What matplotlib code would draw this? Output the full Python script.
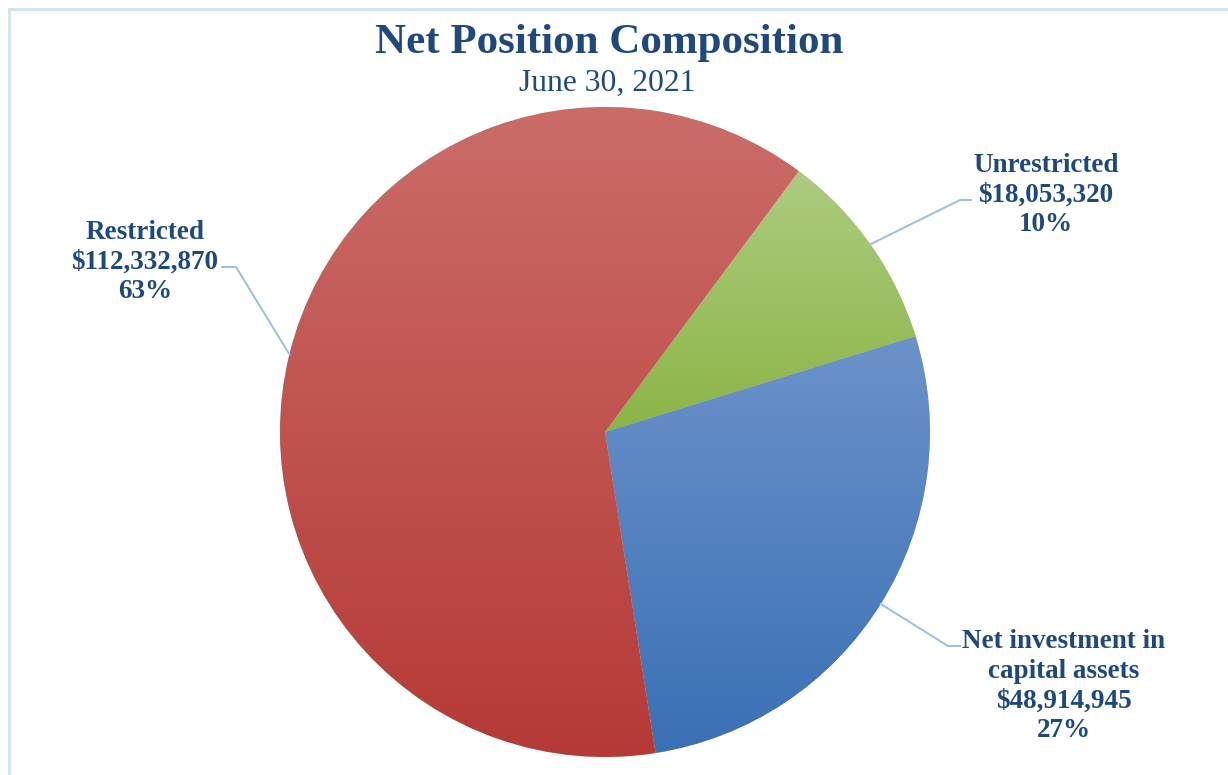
import matplotlib
matplotlib.use('Agg')
import matplotlib.pyplot as plt
import numpy as np
from matplotlib.colors import LinearSegmentedColormap, to_rgb
from matplotlib.lines import Line2D

plt.rcParams['font.family'] = ['Liberation Serif', 'DejaVu Serif']

# data
categories = ['Unrestricted', 'Net investment in\ncapital assets', 'Restricted']
values = [18053320, 48914945, 112332870]
percents = ['10%', '27%', '63%']

# (light top colour, dark bottom colour)
colors = [('#AECB80', '#8BB546'),
          ('#6C92CA', '#3A70B4'),
          ('#CB6C68', '#B53A37')]

TXT = '#1F497D'
W, H = 1228, 775
CX, CY, R = 605, 432, 325   # pie centre / radius in pixels (from top)

fig = plt.figure(figsize=(W / 100, H / 100), dpi=100)
fig.patch.set_facecolor('white')

# thin light border (only top / left visible in the reference)
bx, by = 8.5 / W, 1 - 8.5 / H
fig.add_artist(Line2D([bx, 1.0], [by, by], transform=fig.transFigure,
                      color='#D5E2F3', linewidth=2.2))
fig.add_artist(Line2D([bx, bx], [0.0, by], transform=fig.transFigure,
                      color='#D5E2F3', linewidth=2.2))

ax = fig.add_axes([(CX - R) / W, (H - CY - R) / H, 2 * R / W, 2 * R / H])
wedges, _ = ax.pie(values, startangle=53.4, counterclock=False,
                   radius=1, wedgeprops=dict(edgecolor='white', linewidth=0.4))

# vertical gradient per wedge
grad = np.linspace(0, 1, 256).reshape(-1, 1)
for w, (c1, c2) in zip(wedges, colors):
    cmap = LinearSegmentedColormap.from_list('g', [to_rgb(c2), to_rgb(c1)])
    bb = w.get_path().get_extents(w.get_patch_transform())
    im = ax.imshow(grad, cmap=cmap, origin='lower', aspect='auto',
                   extent=[bb.x0, bb.x1, bb.y0, bb.y1], zorder=w.get_zorder() + 0.1,
                   interpolation='bilinear')
    im.set_clip_path(w)
ax.set_xlim(-1, 1)
ax.set_ylim(-1, 1)
ax.set_aspect('equal')
ax.axis('off')


def px(x, y):
    # pixel (from top) -> data coords
    return (x - CX) / R, (CY - y) / R


# label centre (px), elbow point, horizontal end point
label_pos = [(1046, 195), (1064, 686), (145, 262)]
elbows = [((960, 200), (971, 200)),
          ((948, 646), (960, 646)),
          ((236, 267), (222, 267))]

for w, cat, val, pct, lp, (el, en) in zip(wedges, categories, values,
                                          percents, label_pos, elbows):
    mid = np.deg2rad((w.theta1 + w.theta2) / 2)
    sx, sy = np.cos(mid), np.sin(mid)
    ex, ey = px(*el)
    nx, ny = px(*en)
    ax.plot([sx, ex, nx], [sy, ey, ny], color='#9DBDE6', linewidth=1.4,
            clip_on=False, zorder=5)
    tx, ty = px(*lp)
    ax.text(tx, ty, '{}\n${:,}\n{}'.format(cat, val, pct), ha='center',
            va='center', fontsize=19.5, fontweight='bold', color=TXT,
            linespacing=1.25, clip_on=False)

fig.text(609 / W, 1 - 43 / H, 'Net Position Composition', ha='center',
         va='center', fontsize=31, fontweight='bold', color=TXT)
fig.text(607 / W, 1 - 83 / H, 'June 30, 2021', ha='center', va='center',
         fontsize=22.8, color=TXT)

fig.savefig('out.png', dpi=100)
